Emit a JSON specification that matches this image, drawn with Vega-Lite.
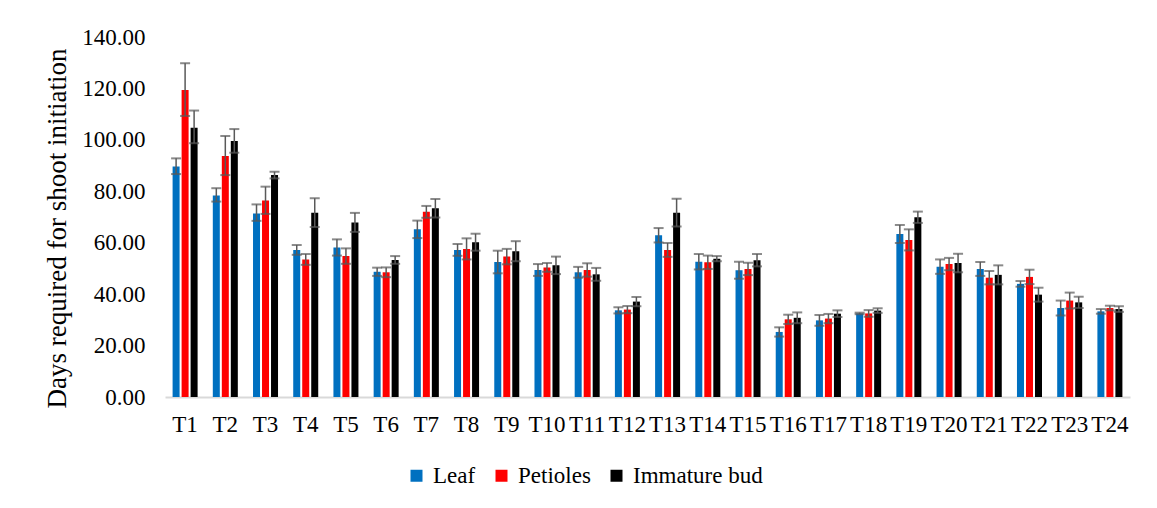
{
  "$schema": "https://vega.github.io/schema/vega-lite/v6.json",
  "width": 965,
  "height": 360,
  "autosize": {"type": "none"},
  "padding": {"left": 165, "top": 37, "right": 27, "bottom": 111},
  "background": "white",
  "config": {
    "view": {"stroke": null},
    "font": "Liberation Serif",
    "legend": {"labelFont": "Liberation Serif"},
    "axis": {"labelFont": "Liberation Serif", "titleFont": "Liberation Serif"}
  },
  "data": {
    "values": [
      {"t": "T1", "s": "Leaf", "mean": 89.6, "lo": 86.7, "hi": 92.8},
      {"t": "T1", "s": "Petioles", "mean": 119.4, "lo": 109.3, "hi": 129.8},
      {"t": "T1", "s": "Immature bud", "mean": 104.7, "lo": 98.7, "hi": 111.4},
      {"t": "T2", "s": "Leaf", "mean": 78.4, "lo": 76.0, "hi": 81.2},
      {"t": "T2", "s": "Petioles", "mean": 93.7, "lo": 86.3, "hi": 101.5},
      {"t": "T2", "s": "Immature bud", "mean": 99.6, "lo": 95.0, "hi": 104.2},
      {"t": "T3", "s": "Leaf", "mean": 71.4, "lo": 68.5, "hi": 74.9},
      {"t": "T3", "s": "Petioles", "mean": 76.4, "lo": 71.2, "hi": 81.8},
      {"t": "T3", "s": "Immature bud", "mean": 86.3, "lo": 85.0, "hi": 87.6},
      {"t": "T4", "s": "Leaf", "mean": 57.2, "lo": 55.3, "hi": 59.1},
      {"t": "T4", "s": "Petioles", "mean": 53.5, "lo": 51.4, "hi": 55.6},
      {"t": "T4", "s": "Immature bud", "mean": 71.7, "lo": 66.1, "hi": 77.3},
      {"t": "T5", "s": "Leaf", "mean": 58.1, "lo": 55.0, "hi": 61.3},
      {"t": "T5", "s": "Petioles", "mean": 54.8, "lo": 51.8, "hi": 57.8},
      {"t": "T5", "s": "Immature bud", "mean": 67.9, "lo": 64.2, "hi": 71.6},
      {"t": "T6", "s": "Leaf", "mean": 48.7, "lo": 47.1, "hi": 50.3},
      {"t": "T6", "s": "Petioles", "mean": 48.5, "lo": 46.6, "hi": 50.4},
      {"t": "T6", "s": "Immature bud", "mean": 53.3, "lo": 51.8, "hi": 54.8},
      {"t": "T7", "s": "Leaf", "mean": 65.2, "lo": 61.8, "hi": 68.6},
      {"t": "T7", "s": "Petioles", "mean": 72.0, "lo": 69.7, "hi": 74.3},
      {"t": "T7", "s": "Immature bud", "mean": 73.4, "lo": 69.8, "hi": 77.0},
      {"t": "T8", "s": "Leaf", "mean": 57.2, "lo": 54.9, "hi": 59.5},
      {"t": "T8", "s": "Petioles", "mean": 57.6, "lo": 53.5, "hi": 61.7},
      {"t": "T8", "s": "Immature bud", "mean": 60.2, "lo": 56.9, "hi": 63.5},
      {"t": "T9", "s": "Leaf", "mean": 52.5, "lo": 48.1, "hi": 56.9},
      {"t": "T9", "s": "Petioles", "mean": 54.6, "lo": 51.6, "hi": 57.6},
      {"t": "T9", "s": "Immature bud", "mean": 56.7, "lo": 52.8, "hi": 60.6},
      {"t": "T10", "s": "Leaf", "mean": 49.4, "lo": 47.1, "hi": 51.7},
      {"t": "T10", "s": "Petioles", "mean": 50.4, "lo": 48.7, "hi": 52.1},
      {"t": "T10", "s": "Immature bud", "mean": 51.2, "lo": 47.8, "hi": 54.6},
      {"t": "T11", "s": "Leaf", "mean": 48.5, "lo": 46.4, "hi": 50.6},
      {"t": "T11", "s": "Petioles", "mean": 49.4, "lo": 46.8, "hi": 52.0},
      {"t": "T11", "s": "Immature bud", "mean": 47.7, "lo": 45.2, "hi": 50.2},
      {"t": "T12", "s": "Leaf", "mean": 33.7, "lo": 32.5, "hi": 34.9},
      {"t": "T12", "s": "Petioles", "mean": 34.0, "lo": 32.6, "hi": 35.4},
      {"t": "T12", "s": "Immature bud", "mean": 37.1, "lo": 35.3, "hi": 38.9},
      {"t": "T13", "s": "Leaf", "mean": 62.9, "lo": 60.1, "hi": 65.7},
      {"t": "T13", "s": "Petioles", "mean": 57.2, "lo": 54.5, "hi": 59.9},
      {"t": "T13", "s": "Immature bud", "mean": 71.7, "lo": 66.3, "hi": 77.1},
      {"t": "T14", "s": "Leaf", "mean": 52.6, "lo": 49.6, "hi": 55.6},
      {"t": "T14", "s": "Petioles", "mean": 52.4, "lo": 49.8, "hi": 55.0},
      {"t": "T14", "s": "Immature bud", "mean": 53.8, "lo": 52.8, "hi": 54.8},
      {"t": "T15", "s": "Leaf", "mean": 49.3, "lo": 46.0, "hi": 52.6},
      {"t": "T15", "s": "Petioles", "mean": 49.8, "lo": 47.4, "hi": 52.2},
      {"t": "T15", "s": "Immature bud", "mean": 53.2, "lo": 50.8, "hi": 55.6},
      {"t": "T16", "s": "Leaf", "mean": 25.3, "lo": 23.5, "hi": 27.1},
      {"t": "T16", "s": "Petioles", "mean": 30.2, "lo": 28.4, "hi": 32.0},
      {"t": "T16", "s": "Immature bud", "mean": 30.8, "lo": 28.7, "hi": 32.9},
      {"t": "T17", "s": "Leaf", "mean": 29.8, "lo": 27.7, "hi": 31.9},
      {"t": "T17", "s": "Petioles", "mean": 30.5, "lo": 28.7, "hi": 32.3},
      {"t": "T17", "s": "Immature bud", "mean": 32.4, "lo": 31.1, "hi": 33.7},
      {"t": "T18", "s": "Leaf", "mean": 32.5, "lo": 32.2, "hi": 32.8},
      {"t": "T18", "s": "Petioles", "mean": 32.5, "lo": 31.2, "hi": 33.8},
      {"t": "T18", "s": "Immature bud", "mean": 33.6, "lo": 32.7, "hi": 34.5},
      {"t": "T19", "s": "Leaf", "mean": 63.4, "lo": 59.9, "hi": 66.9},
      {"t": "T19", "s": "Petioles", "mean": 61.1, "lo": 57.0, "hi": 65.2},
      {"t": "T19", "s": "Immature bud", "mean": 69.9, "lo": 67.7, "hi": 72.1},
      {"t": "T20", "s": "Leaf", "mean": 50.7, "lo": 47.9, "hi": 53.5},
      {"t": "T20", "s": "Petioles", "mean": 51.7, "lo": 49.3, "hi": 54.1},
      {"t": "T20", "s": "Immature bud", "mean": 52.1, "lo": 48.5, "hi": 55.7},
      {"t": "T21", "s": "Leaf", "mean": 49.8, "lo": 47.1, "hi": 52.5},
      {"t": "T21", "s": "Petioles", "mean": 46.4, "lo": 43.8, "hi": 49.0},
      {"t": "T21", "s": "Immature bud", "mean": 47.5, "lo": 43.8, "hi": 51.2},
      {"t": "T22", "s": "Leaf", "mean": 44.0, "lo": 42.9, "hi": 45.1},
      {"t": "T22", "s": "Petioles", "mean": 46.7, "lo": 43.9, "hi": 49.5},
      {"t": "T22", "s": "Immature bud", "mean": 39.8, "lo": 37.1, "hi": 42.5},
      {"t": "T23", "s": "Leaf", "mean": 34.6, "lo": 31.7, "hi": 37.5},
      {"t": "T23", "s": "Petioles", "mean": 37.5, "lo": 34.4, "hi": 40.6},
      {"t": "T23", "s": "Immature bud", "mean": 36.8, "lo": 34.6, "hi": 39.0},
      {"t": "T24", "s": "Leaf", "mean": 33.3, "lo": 32.4, "hi": 34.2},
      {"t": "T24", "s": "Petioles", "mean": 34.6, "lo": 33.7, "hi": 35.5},
      {"t": "T24", "s": "Immature bud", "mean": 34.2, "lo": 33.1, "hi": 35.3}
    ]
  },
  "encoding": {
    "x": {
      "field": "t",
      "type": "nominal",
      "sort": null,
      "scale": {"paddingInner": 0.378, "paddingOuter": 0.189},
      "axis": {
        "title": null,
        "labelAngle": 0,
        "labelFont": "Liberation Serif",
        "labelFontSize": 23,
        "labelColor": "#000000",
        "labelPadding": 16,
        "labelOverlap": false,
        "labelBound": false,
        "ticks": false,
        "domainColor": "#d9d9d9",
        "domainWidth": 2,
        "grid": false
      }
    },
    "xOffset": {
      "field": "s",
      "type": "nominal",
      "sort": ["Leaf", "Petioles", "Immature bud"],
      "scale": {"paddingInner": 0.222, "paddingOuter": 0}
    }
  },
  "layer": [
    {
      "mark": {"type": "bar"},
      "encoding": {
        "y": {
          "field": "mean",
          "type": "quantitative",
          "scale": {"domain": [0, 140], "nice": false},
          "axis": {
            "values": [0, 20, 40, 60, 80, 100, 120, 140],
            "format": ".2f",
            "title": "Days required for shoot initiation",
            "titleFont": "Liberation Serif",
            "titleFontSize": 27,
            "titleFontWeight": "normal",
            "titleColor": "#000000",
            "titlePadding": 10,
            "titleY": 191,
            "labelFont": "Liberation Serif",
            "labelFontSize": 23,
            "labelColor": "#000000",
            "labelPadding": 20,
            "ticks": false,
            "domain": false,
            "grid": false
          }
        },
        "color": {
          "field": "s",
          "type": "nominal",
          "sort": ["Leaf", "Petioles", "Immature bud"],
          "scale": {"domain": ["Leaf", "Petioles", "Immature bud"], "range": ["#0070C0", "#FF0000", "#000000"]},
          "legend": {
            "title": null,
            "orient": "none",
            "direction": "horizontal",
            "legendX": 240,
            "legendY": 427,
            "symbolType": "square",
            "symbolSize": 144,
            "symbolStrokeWidth": 0,
            "labelFont": "Liberation Serif",
            "labelFontSize": 23,
            "labelColor": "#000000",
            "labelOffset": 5,
            "columnPadding": 14
          }
        }
      }
    },
    {
      "mark": {"type": "rule", "color": "#595959", "strokeWidth": 1.5},
      "encoding": {
        "y": {"field": "lo", "type": "quantitative"},
        "y2": {"field": "hi"}
      }
    },
    {
      "mark": {"type": "tick", "color": "#595959", "size": 10, "thickness": 2, "orient": "horizontal"},
      "encoding": {
        "y": {"field": "hi", "type": "quantitative"}
      }
    },
    {
      "mark": {"type": "tick", "color": "#595959", "size": 10, "thickness": 2, "orient": "horizontal"},
      "encoding": {
        "y": {"field": "lo", "type": "quantitative"}
      }
    }
  ]
}
